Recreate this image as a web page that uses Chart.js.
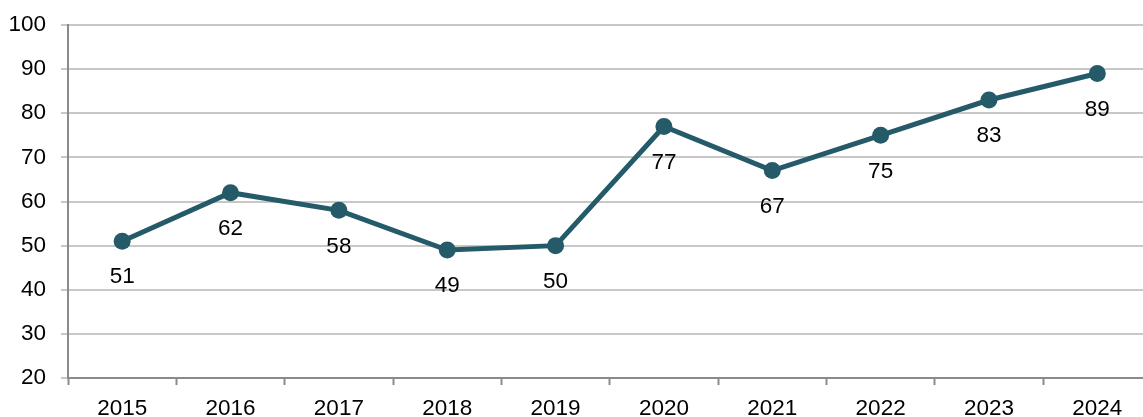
<!DOCTYPE html>
<html>
<head>
<meta charset="utf-8">
<style>
  html, body { margin: 0; padding: 0; background: #fff; overflow: hidden; }
  #wrap { width: 1160px; height: 417px; }
</style>
<script src="https://cdn.jsdelivr.net/npm/chart.js@4/dist/chart.umd.min.js"></script>
</head>
<body>
<div id="wrap"><canvas id="trend" width="1160" height="417"></canvas></div>
<script>
const years = ["2015", "2016", "2017", "2018", "2019", "2020", "2021", "2022", "2023", "2024"];
const values = [51, 62, 58, 49, 50, 77, 67, 75, 83, 89];
const yTicks = [20, 30, 40, 50, 60, 70, 80, 90, 100];

const FONT = "'Liberation Sans', Arial, sans-serif";
const LINE_COLOR = "#255b69";
const AXIS_COLOR = "#8a8a8a";
const GRID_COLOR = "#c8c8c8";

// value labels under each point
const pointLabels = {
  id: "pointLabels",
  afterDatasetsDraw(chart) {
    const ctx = chart.ctx;
    const meta = chart.getDatasetMeta(0);
    ctx.save();
    ctx.font = "22.5px " + FONT;
    ctx.fillStyle = "#000";
    ctx.textAlign = "center";
    ctx.textBaseline = "middle";
    meta.data.forEach((pt, i) => {
      ctx.fillText(String(values[i]), pt.x, pt.y + 36);
    });
    ctx.restore();
  }
};

function initChart() {
  const ctx = document.getElementById("trend");
  if (!ctx) return;

  new Chart(ctx, {
    type: "line",
    data: {
      labels: years,
      datasets: [{
        data: values,
        borderColor: LINE_COLOR,
        backgroundColor: LINE_COLOR,
        borderWidth: 5,
        pointRadius: 8.5,
        pointBorderWidth: 0,
        pointBackgroundColor: LINE_COLOR,
        tension: 0
      }]
    },
    options: {
      responsive: false,
      animation: false,
      layout: { padding: { top: 25, right: 2, left: 0, bottom: 0 } },
      plugins: { legend: { display: false }, tooltip: { enabled: false } },
      scales: {
        x: {
          offset: true,
          afterFit: s => { s.height = 39; },
          grid: {
            offset: true,
            drawOnChartArea: false,
            tickLength: 7,
            tickColor: AXIS_COLOR,
            tickWidth: 2
          },
          border: { color: AXIS_COLOR, width: 2 },
          ticks: {
            color: "#000",
            padding: 10,
            font: { family: FONT, size: 22.5 }
          }
        },
        y: {
          min: yTicks[0],
          max: yTicks[yTicks.length - 1],
          afterFit: s => {
            s.width = 68;
            s.paddingTop = 0;
            s.paddingBottom = 0;
          },
          afterBuildTicks: s => { s.ticks = yTicks.map(v => ({ value: v })); },
          grid: {
            color: GRID_COLOR,
            lineWidth: 2,
            tickLength: 7,
            tickColor: GRID_COLOR
          },
          border: { color: AXIS_COLOR, width: 2 },
          ticks: {
            color: "#000",
            padding: 15,
            font: { family: FONT, size: 22.5 }
          }
        }
      }
    },
    plugins: [pointLabels]
  });
}

document.addEventListener("DOMContentLoaded", initChart);
</script>
</body>
</html>
